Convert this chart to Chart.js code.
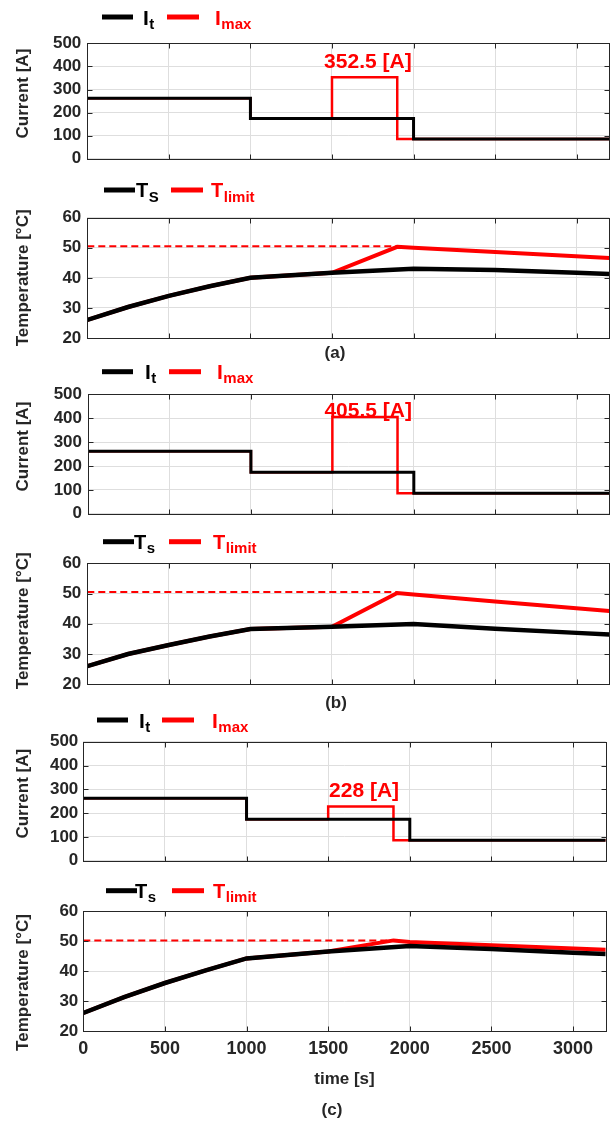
<!DOCTYPE html>
<html>
<head>
<meta charset="UTF-8">
<title>Current and temperature</title>
<script src="https://cdn.jsdelivr.net/npm/chart.js"></script>
<style>
  body { margin: 0; background: #fff; }
  #wrap { position: relative; width: 616px; height: 1121px; overflow: hidden; }
  canvas { position: absolute; left: 0; }
  .cap { position: absolute; font: bold 17px "Liberation Sans", Arial, sans-serif; color: #262626; transform: translate(-50%, -50%); white-space: nowrap; }
</style>
</head>
<body>
<div id="wrap">
  <canvas id="a1" width="616" height="175" style="top:0px"></canvas>
  <canvas id="a2" width="616" height="180" style="top:175px"></canvas>
  <canvas id="b1" width="616" height="175" style="top:355px"></canvas>
  <canvas id="b2" width="616" height="175" style="top:530px"></canvas>
  <canvas id="c1" width="616" height="175" style="top:705px"></canvas>
  <canvas id="c2" width="616" height="241" style="top:880px"></canvas>
  <div class="cap" style="left:335px; top:353px">(a)</div>
  <div class="cap" style="left:336px; top:703px">(b)</div>
  <div class="cap" style="left:332px; top:1110px">(c)</div>
</div>
<script>
// ticks
const timeTicks = [0, 500, 1000, 1500, 2000, 2500, 3000];
const currentTicks = [0, 100, 200, 300, 400, 500];
const tempTicks = [20, 30, 40, 50, 60];

// current: level held from each time until the next one
const itTimes = [0, 1000, 2000, 3200];
const itLevels = [262, 174, 86, 86];
const imaxTimes = [0, 1000, 1500, 1900, 3200];
const imaxA = [262, 174, 352.5, 86, 86];
const imaxB = [262, 174, 405.5, 86, 86];
const imaxC = [262, 174, 228, 86, 86];
const peakLabels = ['352.5 [A]', '405.5 [A]', '228 [A]'];
const peakValues = [352.5, 405.5, 228];

// surface temperature
const tsTimes = [0, 250, 500, 750, 1000, 1500, 2000, 2500, 3000, 3200];
const tsA = [26, 30.3, 34, 37.2, 40, 41.7, 43, 42.6, 41.7, 41.3];
const tsB = [26, 30, 33, 35.8, 38.3, 39, 39.9, 38.4, 37, 36.5];
const tsC = [26, 31.3, 36, 40.2, 44.2, 46.5, 48.3, 47.3, 46.1, 45.7];

// temperature limit
const tlimTimes = [0, 250, 500, 750, 1000, 1500, 1900, 2000, 2500, 3200];
const tlimA = [26, 30.3, 34, 37.2, 40, 41.7, 50.3, 50.0, 48.6, 46.6];
const tlimB = [26, 30, 33, 35.8, 38.3, 39, 50.2, 49.7, 47.4, 44.2];
const tlimC = [26, 31.3, 36, 40.2, 44.2, 46.5, 50.2, 49.7, 48.6, 47.1];
const limitTimes = [0, 1900];
const limitA = [50.5, 50.5];
const limitB = [50.5, 50.5];
const limitC = [50.2, 50.2];

const FONT = "'Liberation Sans', Arial, sans-serif";
const DARK = '#262626';
const RED = '#ff0000';
Chart.defaults.font.family = FONT;
Chart.defaults.color = DARK;

const pts = (xs, ys) => xs.map((x, i) => ({ x: x, y: ys[i] }));

const matlabPlugin = {
  id: 'matlab',
  afterDraw(chart, args, o) {
    const { ctx, chartArea: a, scales: { x, y } } = chart;
    ctx.save();
    // box + inward ticks
    ctx.strokeStyle = DARK;
    ctx.lineWidth = 1;
    const L = Math.round(a.left) + 0.5, T = Math.round(a.top) + 0.5;
    const R = Math.round(a.right) + 0.5, B = Math.round(a.bottom) + 0.5;
    ctx.strokeRect(L, T, R - L, B - T);
    ctx.beginPath();
    x.ticks.forEach(t => {
      const px = Math.round(x.getPixelForValue(t.value)) + 0.5;
      ctx.moveTo(px, B); ctx.lineTo(px, B - 5);
      ctx.moveTo(px, T); ctx.lineTo(px, T + 5);
    });
    y.ticks.forEach(t => {
      const py = Math.round(y.getPixelForValue(t.value)) + 0.5;
      ctx.moveTo(L, py); ctx.lineTo(L + 5, py);
      ctx.moveTo(R, py); ctx.lineTo(R - 5, py);
    });
    ctx.stroke();

    // y title
    ctx.save();
    ctx.translate(23, (a.top + a.bottom) / 2 + o.titleShift);
    ctx.rotate(-Math.PI / 2);
    ctx.font = 'bold 17px ' + FONT;
    ctx.fillStyle = DARK;
    ctx.textAlign = 'center';
    ctx.textBaseline = 'middle';
    ctx.fillText(o.title, 0, 0);
    ctx.restore();

    // peak label
    if (o.peak) {
      ctx.font = 'bold 21px ' + FONT;
      ctx.fillStyle = RED;
      ctx.textAlign = 'center';
      ctx.textBaseline = 'alphabetic';
      ctx.fillText(o.peak.text, x.getPixelForValue(o.peak.x), y.getPixelForValue(o.peak.y) + o.peak.dy);
    }

    // legend with subscripts
    const ly = o.legend.y - o.top;
    o.legend.items.forEach(it => {
      ctx.strokeStyle = it.color;
      ctx.lineWidth = 5;
      ctx.beginPath();
      ctx.moveTo(it.x0, ly);
      ctx.lineTo(it.x1, ly);
      ctx.stroke();
      ctx.fillStyle = it.color;
      ctx.textAlign = 'left';
      ctx.textBaseline = 'alphabetic';
      ctx.font = 'bold ' + it.size + 'px ' + FONT;
      ctx.fillText(it.main, it.tx, ly + it.size * 0.36);
      const w = ctx.measureText(it.main).width;
      ctx.font = 'bold 15px ' + FONT;
      ctx.fillText(it.sub, it.tx + w + 0.5, ly + 11.5);
    });
    ctx.restore();
  }
};

function makeChart(id, p) {
  const isLast = p.xLabels;
  new Chart(document.getElementById(id), {
    type: 'line',
    data: { datasets: p.datasets },
    options: {
      responsive: false,
      animation: false,
      events: [],
      layout: { padding: { top: p.plotTop - p.top, right: 616 - p.right, left: 0, bottom: 0 } },
      elements: { point: { radius: 0 }, line: { tension: 0 } },
      plugins: {
        legend: { display: false },
        tooltip: { enabled: false },
        matlab: {
          top: p.top, title: p.title, titleShift: p.titleShift,
          legend: p.legend, peak: p.peak
        }
      },
      scales: {
        x: {
          type: 'linear', min: 0, max: 3200,
          afterBuildTicks: s => { s.ticks = timeTicks.map(v => ({ value: v })); },
          afterFit: s => { s.height = p.height - (p.plotBottom - p.top); },
          grid: { color: '#dedede', drawTicks: false },
          border: { display: false },
          ticks: { display: !!isLast, padding: 7, color: DARK, font: { size: 18, weight: 'bold' }, callback: v => String(v) },
          title: { display: !!isLast, text: 'time [s]', color: DARK, font: { size: 17, weight: 'bold' }, padding: { top: 0, bottom: 31 } }
        },
        y: {
          min: p.ymin, max: p.ymax,
          afterBuildTicks: s => { s.ticks = p.yticks.map(v => ({ value: v })); },
          afterFit: s => { s.width = p.left; },
          grid: { color: '#dedede', drawTicks: false },
          border: { display: false },
          ticks: { padding: p.tickPad, color: DARK, font: { size: 17, weight: 'bold' }, callback: v => String(v) }
        }
      }
    },
    plugins: [matlabPlugin]
  });
}

function currentSets(imax) {
  return [
    { label: 'I_t', data: pts(itTimes, itLevels), borderColor: '#000', borderWidth: 3, stepped: true, order: 0 },
    { label: 'I_max', data: pts(imaxTimes, imax), borderColor: RED, borderWidth: 2.5, stepped: true, order: 1 }
  ];
}
function tempSets(ts, tlim, lim) {
  return [
    { label: 'T_s', data: pts(tsTimes, ts), borderColor: '#000', borderWidth: 4.5, order: 0 },
    { label: 'T_limit', data: pts(tlimTimes, tlim), borderColor: RED, borderWidth: 4, order: 1 },
    { label: 'T_limit (bound)', data: pts(limitTimes, lim), borderColor: RED, borderWidth: 2, borderDash: [7, 4], order: 2 }
  ];
}
function iLegend(y, bx0, btx, rx0, rtx) {
  return { y: y, items: [
    { color: '#000', x0: bx0, x1: bx0 + 31, tx: btx, main: 'I', sub: 't', size: 21 },
    { color: RED, x0: rx0, x1: rx0 + 32, tx: rtx, main: 'I', sub: 'max', size: 21 }
  ] };
}
function tLegend(y, bx0, btx, sub, rx0, rtx) {
  return { y: y, items: [
    { color: '#000', x0: bx0, x1: bx0 + 31, tx: btx, main: 'T', sub: sub, size: 20 },
    { color: RED, x0: rx0, x1: rx0 + 32, tx: rtx, main: 'T', sub: 'limit', size: 20 }
  ] };
}

const curAxis = { ymin: 0, ymax: 500, yticks: currentTicks, title: 'Current [A]', titleShift: -7.5 };
const tmpAxis = { ymin: 20, ymax: 60, yticks: tempTicks, title: 'Temperature [\u00B0C]' };

makeChart('a1', Object.assign({}, curAxis, {
  top: 0, height: 175, left: 87.3, right: 609.3, plotTop: 43.3, plotBottom: 163.7, tickPad: 6,
  datasets: currentSets(imaxA), legend: iLegend(17, 102, 143, 167, 215),
  peak: { text: peakLabels[0], x: 1720, y: peakValues[0], dy: -9 }
}));
makeChart('a2', Object.assign({}, tmpAxis, {
  top: 175, height: 180, left: 87.3, right: 609.3, plotTop: 217.7, plotBottom: 338, tickPad: 6, titleShift: 0,
  datasets: tempSets(tsA, tlimA, limitA), legend: tLegend(190, 104, 136, 'S', 171, 211)
}));
makeChart('b1', Object.assign({}, curAxis, {
  top: 355, height: 175, left: 88, right: 609.3, plotTop: 394.3, plotBottom: 515.3, tickPad: 6,
  datasets: currentSets(imaxB), legend: iLegend(371.7, 102, 145, 169, 217),
  peak: { text: peakLabels[1], x: 1720, y: peakValues[1], dy: 0 }
}));
makeChart('b2', Object.assign({}, tmpAxis, {
  top: 530, height: 175, left: 87.3, right: 609.3, plotTop: 563.3, plotBottom: 684.3, tickPad: 6, titleShift: -3,
  datasets: tempSets(tsB, tlimB, limitB), legend: tLegend(541.7, 103, 134, 's', 169, 213)
}));
makeChart('c1', Object.assign({}, curAxis, {
  top: 705, height: 175, left: 83.3, right: 605.7, plotTop: 741.7, plotBottom: 860.7, tickPad: 5,
  datasets: currentSets(imaxC), legend: iLegend(720, 97, 139, 162, 212),
  peak: { text: peakLabels[2], x: 1720, y: peakValues[2], dy: -9 }
}));
makeChart('c2', Object.assign({}, tmpAxis, {
  top: 880, height: 241, left: 83.3, right: 605.7, plotTop: 911, plotBottom: 1031, tickPad: 5, titleShift: 11.5,
  datasets: tempSets(tsC, tlimC, limitC), legend: tLegend(890.7, 106, 135, 's', 172, 213),
  xLabels: true
}));
</script>
</body>
</html>
